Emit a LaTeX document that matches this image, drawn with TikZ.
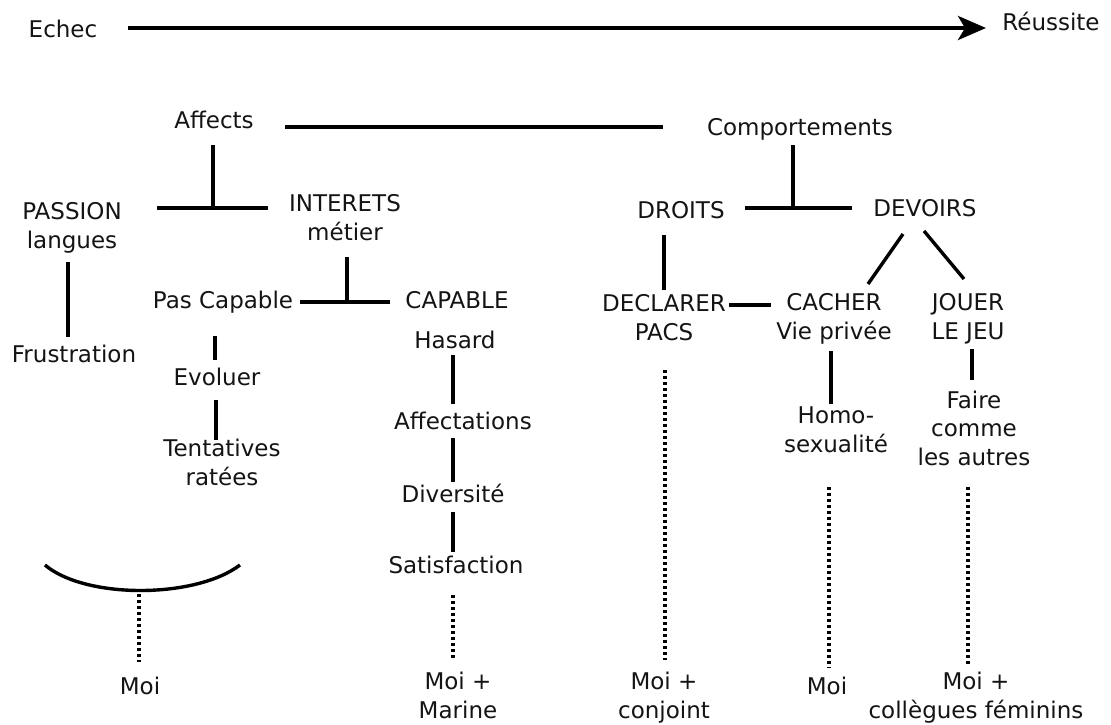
\documentclass[tikz,border=0pt]{standalone}
\usepackage{fontspec}
\setmainfont{DejaVu Sans}
\usetikzlibrary{arrows.meta}
\begin{document}
\begin{tikzpicture}[x=1pt,y=-1pt,
  lbl/.style={font=\fontsize{23}{28.5}\selectfont, align=center, inner sep=0pt, anchor=base, text=black!92},
  conn/.style={line width=3.4pt, black},
  dots/.style={line width=3.4pt, black, dash pattern=on 3pt off 3pt},
  axis/.style={line width=4pt, black, -{Stealth[length=28pt,width=24pt,inset=7pt]}},
]
\fill[white] (0,0) rectangle (1111,724);
\useasboundingbox (0,0) rectangle (1111,724);

% scale of outcomes
\node[lbl] (echec)    at (63,37)   {Echec};
\node[lbl] (reussite) at (1051,30) {Réussite};
\coordinate (axisL) at (128,28);
\coordinate (axisR) at (986,28);
\draw[axis] (axisL) -- (axisR);

% top level
\node[lbl] (affects) at (214,128) {Affects};
\node[lbl] (comport) at (800,135) {Comportements};
\coordinate (topL) at (285,127);
\coordinate (topR) at (663,127);
\draw[conn] (topL) -- (topR);

% affects branch (multi-line labels are placed by their last baseline)
\node[lbl] (passion)  at (72,248)  {PASSION\\langues};
\node[lbl] (interets) at (345,240) {INTERETS\\métier};
\coordinate (aTop) at (213,145);
\coordinate (aJ)   at (213,208);
\coordinate (aL)   at (157,208);
\coordinate (aR)   at (268,208);
\draw[conn] (aTop) -- (aJ);
\draw[conn] (aL) -- (aR);

\node[lbl] (frustration) at (74,362) {Frustration};
\coordinate (pTop) at (68,262);
\coordinate (pBot) at (68,337);
\draw[conn] (pTop) -- (pBot);

\node[lbl] (pascap)  at (223,308) {Pas Capable};
\node[lbl] (capable) at (457,308) {CAPABLE};
\coordinate (iTop) at (347,257);
\coordinate (iJ)   at (347,302);
\coordinate (iL)   at (300,302);
\coordinate (iR)   at (390,302);
\draw[conn] (iTop) -- (iJ);
\draw[conn] (iL) -- (iR);

% not capable
\node[lbl] (evoluer)    at (217,385) {Evoluer};
\node[lbl] (tentatives) at (222,485) {Tentatives\\ratées};
\coordinate (e1) at (215,336);
\coordinate (e2) at (215,360);
\coordinate (e3) at (216,400);
\coordinate (e4) at (216,440);
\draw[conn] (e1) -- (e2);
\draw[conn] (e3) -- (e4);

\coordinate (arcL) at (45,565);
\coordinate (arcR) at (240,565);
\draw[conn] (arcL) .. controls (85,599) and (195,599) .. (arcR);
\node[lbl] (moiA) at (140,694) {Moi};
\coordinate (mA1) at (139,594);
\coordinate (mA2) at (139,662);
\draw[dots] (mA1) -- (mA2);

% capable
\node[lbl] (hasard)       at (455,348) {Hasard};
\node[lbl] (affectations) at (463,429) {Affectations};
\node[lbl] (diversite)    at (453,502) {Diversité};
\node[lbl] (satisfaction) at (456,573) {Satisfaction};
\node[lbl] (moiB)         at (458,718) {Moi +\\Marine};
\coordinate (c1) at (453,355);
\coordinate (c2) at (453,404);
\coordinate (c3) at (453,438);
\coordinate (c4) at (453,482);
\coordinate (c5) at (453,512);
\coordinate (c6) at (453,552);
\coordinate (c7) at (453,595);
\coordinate (c8) at (453,660);
\draw[conn] (c1) -- (c2);
\draw[conn] (c3) -- (c4);
\draw[conn] (c5) -- (c6);
\draw[dots] (c7) -- (c8);

% behaviours branch
\node[lbl] (droits)  at (681,218) {DROITS};
\node[lbl] (devoirs) at (925,216) {DEVOIRS};
\coordinate (bTop) at (793,145);
\coordinate (bJ)   at (793,208);
\coordinate (bL)   at (745,208);
\coordinate (bR)   at (852,208);
\draw[conn] (bTop) -- (bJ);
\draw[conn] (bL) -- (bR);

\node[lbl] (declarer) at (664,340) {DECLARER\\PACS};
\coordinate (d1) at (664,235);
\coordinate (d2) at (664,290);
\draw[conn] (d1) -- (d2);

\node[lbl] (cacher) at (834,339) {CACHER\\Vie privée};
\node[lbl] (jouer)  at (968,339) {JOUER\\LE JEU};
\coordinate (v1) at (903,234);
\coordinate (v2) at (868,284);
\coordinate (v3) at (924,231);
\coordinate (v4) at (964,279);
\draw[conn] (v1) -- (v2);
\draw[conn] (v3) -- (v4);
\coordinate (dc1) at (729,305);
\coordinate (dc2) at (771,305);
\draw[conn] (dc1) -- (dc2);

\node[lbl] (homo)  at (836,452) {Homo-\\sexualité};
\node[lbl] (faire) at (974,465) {Faire\\comme\\les autres};
\coordinate (h1) at (831,351);
\coordinate (h2) at (831,404);
\coordinate (f1) at (972,349);
\coordinate (f2) at (972,380);
\draw[conn] (h1) -- (h2);
\draw[conn] (f1) -- (f2);

\node[lbl] (moiC) at (664,718) {Moi +\\conjoint};
\node[lbl] (moiD) at (827,694) {Moi};
\node[lbl] (moiE) at (976,718) {Moi +\\collègues féminins};
\coordinate (o1) at (665,370);
\coordinate (o2) at (665,660);
\coordinate (o3) at (829,487);
\coordinate (o4) at (829,668);
\coordinate (o5) at (968,487);
\coordinate (o6) at (968,666);
\draw[dots] (o1) -- (o2);
\draw[dots] (o3) -- (o4);
\draw[dots] (o5) -- (o6);
\end{tikzpicture}
\end{document}
